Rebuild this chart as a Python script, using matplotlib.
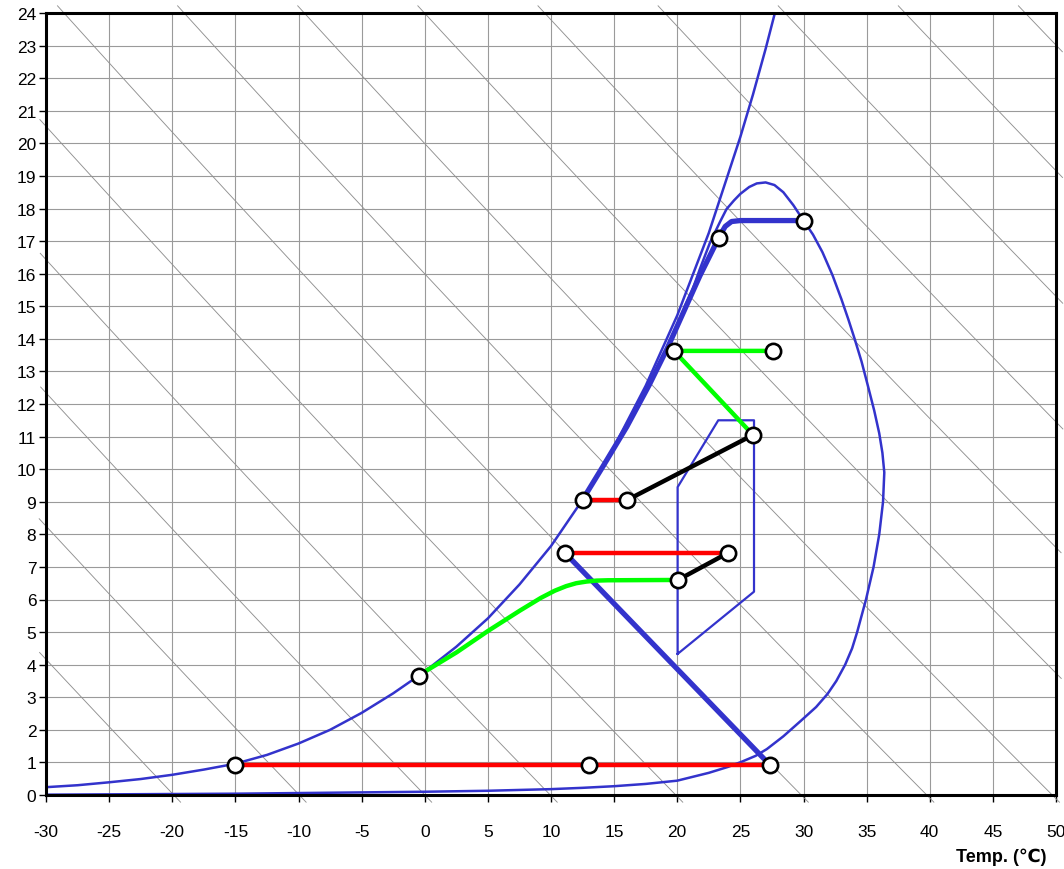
import numpy as np
import matplotlib
matplotlib.use('Agg')
import matplotlib.pyplot as plt

plt.rcParams['font.family'] = ['Liberation Sans', 'DejaVu Sans']
plt.rcParams['axes.unicode_minus'] = False

# saturation curve
sat_t = [-30, -27.5, -25, -22.5, -20, -17.5, -15, -12.5, -10, -7.5, -5, -2.5, 0, 2.5, 5, 7.5,
         10, 12.5, 15, 17.5, 20, 22.5, 25, 26, 27, 28]
sat_w = [0.24, 0.3, 0.39, 0.49, 0.62, 0.78, 0.96, 1.23, 1.58, 2.0, 2.52, 3.12, 3.79, 4.55, 5.42, 6.46,
         7.64, 9.06, 10.69, 12.56, 14.72, 17.25, 20.2, 21.5, 22.9, 24.4]

# outer dome curve
dome_t = [-30, -25, -20, -15, -10, -5, 0, 5, 10, 12.5, 15, 17.5, 20, 22.5, 24, 25.1, 26.2, 27.1,
          28.4, 29.8, 31.0, 31.9, 32.6, 33.3, 33.85, 34.25, 34.95, 35.55, 36.0, 36.3, 36.4, 36.25,
          36.0, 35.6, 35.1, 34.6, 34.05, 33.55, 33.0, 32.3, 31.5, 30.75, 30.0, 29.2, 28.4,
          27.7, 27.0, 26.3, 25.7, 25.0, 24.5, 23.9, 23.4, 22.6, 21.8, 21.2, 20.6]
dome_w = [0.01, 0.02, 0.03, 0.04, 0.06, 0.08, 0.1, 0.13, 0.18, 0.22, 0.27, 0.34, 0.44, 0.68, 0.86, 1.02, 1.2, 1.41,
          1.8, 2.28, 2.7, 3.1, 3.5, 4.0, 4.5, 5.0, 6.0, 7.0, 8.0, 9.0, 9.9, 10.5,
          11.1, 11.8, 12.56, 13.3, 14.0, 14.6, 15.22, 15.95, 16.66, 17.2, 17.63, 18.1, 18.5,
          18.72, 18.8, 18.77, 18.66, 18.45, 18.25, 17.98, 17.6, 16.96, 16.15, 15.5, 15.0]

# thick blue boundary
thick_t = [12.53, 14.14, 16.0, 17.8, 19.2, 20.3, 21.8, 22.85, 23.3, 23.8, 24.3, 25.0, 30.04]
thick_w = [9.08, 10.1, 11.3, 12.6, 13.7, 14.65, 15.94, 16.76, 17.12, 17.45, 17.6, 17.63, 17.63]
diag_t = [11.11, 27.35]
diag_w = [7.43, 0.92]

# comfort polygon
poly_t = [20.03, 20.03, 23.25, 26.08, 26.08, 20.03]
poly_w = [4.33, 9.45, 11.5, 11.5, 6.24, 4.33]

# process lines
red_segments = [([-15.03, 27.35], [0.92, 0.92]),
                ([11.11, 24.02], [7.43, 7.43]),
                ([12.53, 16.02], [9.05, 9.05])]
green_curve_t = [-0.46, 0.15, 2.53, 5.03, 7.54, 9.2, 10.3, 11.2, 12.0, 12.8, 13.6, 14.5, 20.06]
green_curve_w = [3.65, 3.82, 4.38, 5.04, 5.66, 6.05, 6.27, 6.41, 6.5, 6.55, 6.58, 6.59, 6.6]
green_poly_t = [26.0, 19.74, 27.58]
green_poly_w = [11.05, 13.63, 13.63]
black_segments = [([20.06, 24.02], [6.6, 7.43]),
                  ([16.02, 26.0], [9.05, 11.05])]

# state points
pts_t = [-15.03, 13.0, 27.35, -0.46, 20.06, 11.11, 24.02, 12.53, 16.02, 26.0, 19.74, 27.58, 23.3, 30.04]
pts_w = [0.92, 0.92, 0.92, 3.65, 6.6, 7.43, 7.43, 9.05, 9.05, 11.05, 13.63, 13.63, 17.1, 17.62]

# enthalpy lines (kJ/kg)
enthalpy_levels = list(range(-20, 111, 10))

blue = '#3333cc'

fig = plt.figure(figsize=(10.64, 8.70), dpi=100)
ax = fig.add_axes([46 / 1064, 74 / 870, 1010 / 1064, 782 / 870])

# constant enthalpy lines, slightly overshooting the frame
w_s = np.linspace(-0.22, 24.22, 400)
for h in enthalpy_levels:
    t_s = (h - 2.501 * w_s) / (1.006 + 0.00186 * w_s)
    m = (t_s >= -30.55) & (t_s <= 50.55)
    if m.sum() > 1:
        ax.plot(t_s[m], w_s[m], color='#909090', lw=0.65, clip_on=False, zorder=1)

ax.plot(sat_t, sat_w, color=blue, lw=1.8, zorder=3, solid_joinstyle='round')
ax.plot(dome_t, dome_w, color=blue, lw=1.8, zorder=3, solid_joinstyle='round')
ax.plot(poly_t, poly_w, color=blue, lw=1.6, zorder=3)
ax.plot(thick_t, thick_w, color=blue, lw=3.8, zorder=3, solid_joinstyle='round')
ax.plot(diag_t, diag_w, color=blue, lw=3.8, zorder=3)

for t, w in red_segments:
    ax.plot(t, w, color='#ff0000', lw=3.2, zorder=4)
ax.plot(green_curve_t, green_curve_w, color='#00ff00', lw=3.2, zorder=4, solid_joinstyle='round')
ax.plot(green_poly_t, green_poly_w, color='#00ff00', lw=3.2, zorder=4)
for t, w in black_segments:
    ax.plot(t, w, color='black', lw=3.2, zorder=4)

ax.plot(pts_t, pts_w, 'o', ms=11, mfc='white', mec='black', mew=1.9, zorder=6, clip_on=False)

ax.set_xlim(-30, 50)
ax.set_ylim(0, 24)
ax.set_xticks(range(-30, 51, 5))
ax.set_yticks(range(0, 25))
ax.grid(True, color='#9a9a9a', lw=0.8, zorder=0)
ax.set_axisbelow(True)
ax.tick_params(axis='both', direction='out', length=5, width=1, labelsize=12.5, colors='black')
ax.tick_params(axis='x', pad=16)
ax.tick_params(axis='y', pad=2)
for s in ax.spines.values():
    s.set_linewidth(2.2)
    s.set_color('black')
    s.set_zorder(5)

fig.text(1047 / 1064, 1 - 857.5 / 870, 'Temp. (℃)', ha='right', va='center',
         fontsize=13, fontweight='bold')

fig.savefig('out.png', dpi=100)
